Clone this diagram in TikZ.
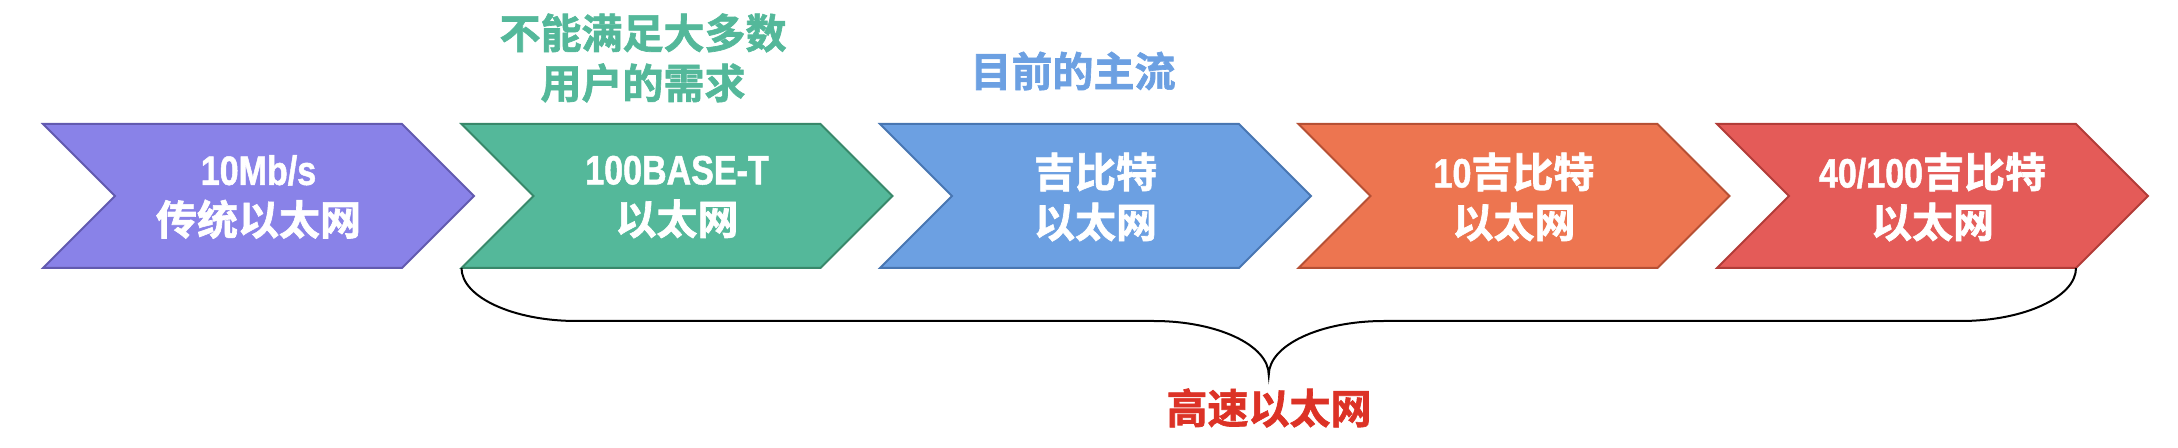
\documentclass[tikz,border=0pt]{standalone}
\usepackage{fontspec}
\newfontfamily\cjk{Noto Sans CJK SC Bold}[FakeBold=1.6]
\newfontfamily\lat{Liberation Sans Bold}[FakeStretch=0.83,FakeBold=1.2]
\definecolor{cPurF}{RGB}{137,130,232}\definecolor{cPurD}{RGB}{98,90,176}
\definecolor{cGrnF}{RGB}{84,184,154}\definecolor{cGrnD}{RGB}{56,136,106}
\definecolor{cBluF}{RGB}{108,160,226}\definecolor{cBluD}{RGB}{72,118,178}
\definecolor{cOraF}{RGB}{237,117,80}\definecolor{cOraD}{RGB}{182,80,52}
\definecolor{cRedF}{RGB}{228,91,88}\definecolor{cRedD}{RGB}{178,60,56}
\definecolor{cHigh}{RGB}{220,50,38}
\tikzset{
  chevtext/.style={text=white,align=center,font=\cjk\fontsize{20.5}{25}\selectfont,inner sep=0pt},
  toplabel/.style={align=center,font=\cjk\fontsize{20.5}{25}\selectfont,inner sep=0pt},
  bracepath/.style={draw=black,line width=1pt},
  chevshape/.style={line width=1pt,line join=miter}
}
\begin{document}
\begin{tikzpicture}[x=0.5pt,y=-0.5pt]
\useasboundingbox (0,0) rectangle (2178,448);
% chevrons: left L, shoulder L+359, tip L+431, notch L+72
\draw[chevshape,fill=cPurF,draw=cPurD] (43,124) -- (402,124) -- (474,196) -- (402,268) -- (43,268) -- (115,196) -- cycle;
\draw[chevshape,fill=cGrnF,draw=cGrnD] (461.5,124) -- (820.5,124) -- (892.5,196) -- (820.5,268) -- (461.5,268) -- (533.5,196) -- cycle;
\draw[chevshape,fill=cBluF,draw=cBluD] (880,124) -- (1239,124) -- (1311,196) -- (1239,268) -- (880,268) -- (952,196) -- cycle;
\draw[chevshape,fill=cOraF,draw=cOraD] (1298.5,124) -- (1657.5,124) -- (1729.5,196) -- (1657.5,268) -- (1298.5,268) -- (1370.5,196) -- cycle;
\draw[chevshape,fill=cRedF,draw=cRedD] (1717,124) -- (2076,124) -- (2148,196) -- (2076,268) -- (1717,268) -- (1789,196) -- cycle;
% texts
\node[chevtext] (t1) at (258.5,197) {{\lat 10Mb/s}\\传统以太网};
\node[chevtext] (t2) at (677,197) {{\lat 100BASE-T}\\以太网};
\node[chevtext] (t3) at (1095.5,197) {吉比特\\以太网};
\node[chevtext] (t4) at (1514,197) {{\lat 10}吉比特\\以太网};
\node[chevtext] (t5) at (1932.5,197) {{\lat 40/100}吉比特\\以太网};
% top labels
\node[toplabel,text=cGrnF] (l2) at (643,58) {不能满足大多数\\用户的需求};
\node[toplabel,text=cBluF] (l3) at (1073,71) {目前的主流};
% brace
\coordinate (b2) at (461.5,268);
\coordinate (b5) at (2076,268);
\coordinate (btip) at (1268.75,375);
\draw[bracepath] (b2) .. controls (461.5,297) and (513,321) .. (576.5,321) -- (1153.75,321)
  .. controls (1217,321) and (1268.75,345) .. (btip)
  .. controls (1268.75,345) and (1320.5,321) .. (1383.75,321) -- (1961,321)
  .. controls (2024,321) and (2076,297) .. (b5);
\node[toplabel,text=cHigh] (hs) at (1269,408) {高速以太网};
\end{tikzpicture}
\end{document}
